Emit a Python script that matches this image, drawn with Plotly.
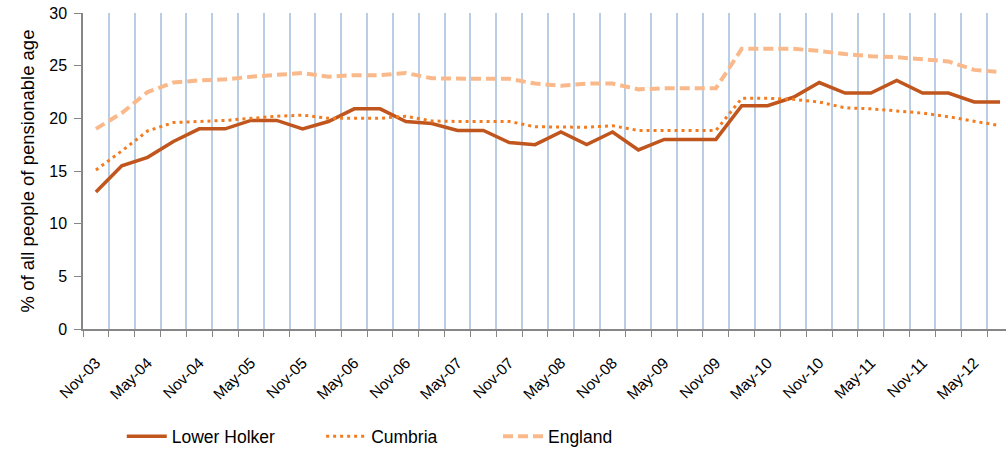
import plotly.graph_objects as go

categories = ["Nov-03", "Feb-04", "May-04", "Aug-04", "Nov-04", "Feb-05", "May-05", "Aug-05",
              "Nov-05", "Feb-06", "May-06", "Aug-06", "Nov-06", "Feb-07", "May-07", "Aug-07",
              "Nov-07", "Feb-08", "May-08", "Aug-08", "Nov-08", "Feb-09", "May-09", "Aug-09",
              "Nov-09", "Feb-10", "May-10", "Aug-10", "Nov-10", "Feb-11", "May-11", "Aug-11",
              "Nov-11", "Feb-12", "May-12", "Aug-12"]

lower_holker = [13.0, 15.5, 16.3, 17.8, 19.0, 19.0, 19.8, 19.8, 19.0, 19.7, 20.9, 20.9,
                19.7, 19.5, 18.85, 18.85, 17.7, 17.5, 18.7, 17.5, 18.7, 17.0, 18.0, 18.0,
                18.0, 21.2, 21.2, 22.0, 23.4, 22.4, 22.4, 23.6, 22.4, 22.4, 21.55, 21.55]

cumbria = [15.1, 16.9, 18.8, 19.6, 19.7, 19.8, 20.0, 20.2, 20.3, 20.0, 20.0, 20.0,
           20.2, 19.75, 19.7, 19.7, 19.7, 19.2, 19.15, 19.15, 19.3, 18.85, 18.85, 18.85,
           18.85, 21.9, 21.9, 21.8, 21.55, 21.0, 20.9, 20.7, 20.5, 20.15, 19.7, 19.3]

england = [19.0, 20.5, 22.5, 23.4, 23.6, 23.7, 23.95, 24.1, 24.3, 23.95, 24.1, 24.1,
           24.3, 23.8, 23.75, 23.75, 23.75, 23.3, 23.1, 23.3, 23.3, 22.75, 22.85, 22.85,
           22.85, 26.6, 26.6, 26.6, 26.4, 26.1, 25.9, 25.8, 25.6, 25.4, 24.6, 24.4]

tick_labels = [c if i % 2 == 0 else "" for i, c in enumerate(categories)]

FONT = "Liberation Sans, Arial, sans-serif"

fig = go.Figure()
fig.add_trace(go.Scatter(x=categories, y=lower_holker, mode="lines", name="Lower Holker",
                         line=dict(color="#C0561D", width=3.5), legend="legend"))
fig.add_trace(go.Scatter(x=categories, y=cumbria, mode="lines", name="Cumbria",
                         line=dict(color="#F47C20", width=3, dash="3px,4px"), legend="legend2"))
fig.add_trace(go.Scatter(x=categories, y=england, mode="lines", name="England",
                         line=dict(color="#FAB98A", width=4, dash="10px,5px"), legend="legend3"))

leg_common = dict(orientation="h", yanchor="middle", y=-0.34, xanchor="left",
                  font=dict(family=FONT, size=17.5, color="#000000"),
                  bgcolor="rgba(0,0,0,0)", itemwidth=40)

fig.update_layout(
    width=1007, height=455,
    margin=dict(l=83, r=1, t=13, b=121),
    paper_bgcolor="white", plot_bgcolor="white",
    font=dict(family=FONT, size=14, color="#000000"),
    showlegend=True,
    legend=dict(x=0.042, **leg_common),
    legend2=dict(x=0.258, **leg_common),
    legend3=dict(x=0.4496, **leg_common),
    xaxis=dict(
        type="category", range=[-0.5, 35.23], automargin=False,
        tickmode="array", tickvals=categories, ticktext=tick_labels,
        tickson="boundaries", ticks="outside", ticklen=6, tickcolor="#868686",
        tickangle=-45, tickfont=dict(size=15.5), ticklabelstandoff=17,
        showgrid=True, gridcolor="#B9CDE5", gridwidth=1.5,
        showline=True, linecolor="#868686", linewidth=1.5,
        zeroline=False,
    ),
    yaxis=dict(
        range=[0, 30], dtick=5, tick0=0, automargin=False,
        ticks="outside", ticklen=7, tickcolor="#868686", ticklabelstandoff=4,
        showgrid=False, zeroline=False,
        showline=True, linecolor="#868686", linewidth=1.5,
        tickfont=dict(size=16),
        title=dict(text="% of all people of pensionable age", font=dict(size=18.5), standoff=10),
    ),
)

fig.write_html("out.html", config={"displayModeBar": False},
               post_script="document.body.style.margin='0';document.body.style.overflow='hidden';")
